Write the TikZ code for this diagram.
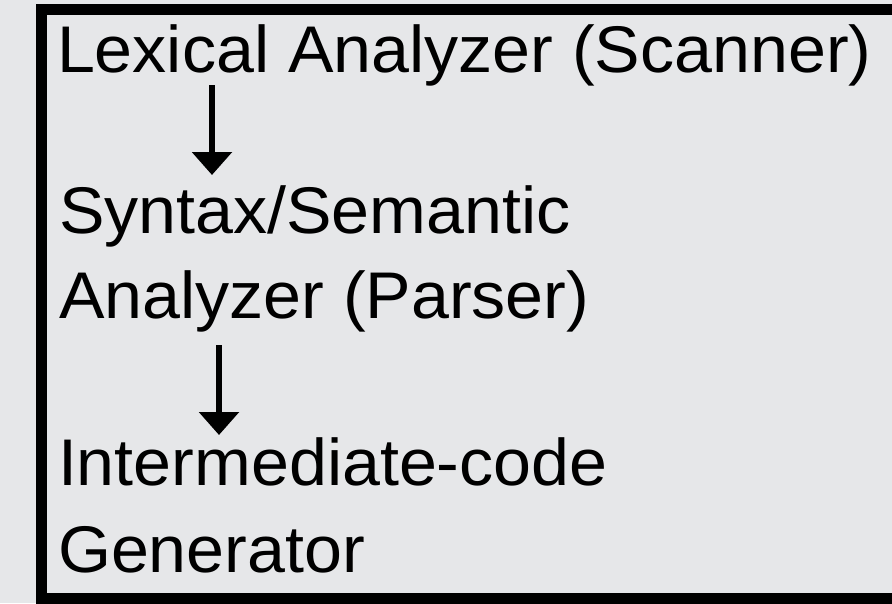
\documentclass[tikz,border=0pt]{standalone}
\usepackage{fontspec}
\setmainfont{Liberation Sans}
\usetikzlibrary{arrows.meta}
\definecolor{bggray}{RGB}{230,231,233}
\begin{document}
\begin{tikzpicture}[x=1pt,y=-1pt,
  lbl/.style={anchor=base west,inner sep=0pt,outer sep=0pt,xscale=1.033,font=\fontsize{66}{79}\selectfont,text=black},
  flow/.style={line width=6pt,-{Triangle[width=39pt,length=23pt]}}]
\fill[bggray] (0,0) rectangle (892,603);
\useasboundingbox (0,0) rectangle (892,603);
\draw[line width=11pt,black] (41,9) rectangle (910,598);
\node[lbl] (lex) at (57,72) {Lexical Analyzer (Scanner)};
\node[lbl] (syn) at (59,233) {Syntax/Semantic};
\node[lbl] (par) at (59,318) {Analyzer (Parser)};
\node[lbl] (inter) at (58,485) {Intermediate-code};
\node[lbl] (gen) at (58,572) {Generator};
\coordinate (a1s) at (212,85);
\coordinate (a1e) at (212,175);
\coordinate (a2s) at (219,345);
\coordinate (a2e) at (219,435);
\draw[flow] (a1s) -- (a1e);
\draw[flow] (a2s) -- (a2e);
\end{tikzpicture}
\end{document}
